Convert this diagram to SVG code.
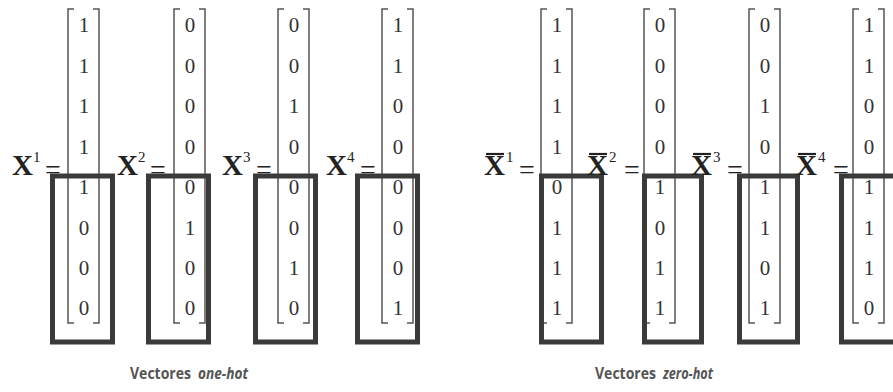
<svg xmlns="http://www.w3.org/2000/svg" width="893" height="392" viewBox="0 0 893 392">
<style>
.d{font-family:"Liberation Serif","Times New Roman",serif;font-size:21px;fill:#333;text-anchor:middle}
.x{font-family:"Liberation Serif","Times New Roman",serif;font-size:29px;font-weight:bold;fill:#222}
.s{font-family:"Liberation Serif","Times New Roman",serif;font-size:15px;fill:#222}
.eq{font-family:"Liberation Serif","Times New Roman",serif;font-size:28px;fill:#222}
.br{fill:none;stroke:#555;stroke-width:1.5}
.bx{fill:none;stroke:#3a3a3a;stroke-width:5}
.ob{stroke:#222;stroke-width:2.2}
.t{font-family:"Open Sans","Liberation Sans",sans-serif;font-size:16.5px;font-weight:bold;fill:#555}
.i{font-style:italic}
</style>
<defs>
<path id="brk" class="br" d="M6,9 H0 V323 H6 M25,9 H31 V323 H25"/>
</defs>

<g id="onehot-x1">
<text class="x" x="12" y="175">X</text><text class="s" x="33" y="162">1</text><text class="eq" x="45" y="179">=</text>
<use href="#brk" x="68"/>
<g class="d" transform="translate(84,0)"><text y="32">1</text><text y="73">1</text><text y="113">1</text><text y="154">1</text><text y="194">1</text><text y="235">0</text><text y="275">0</text><text y="315">0</text></g>
<rect class="bx" x="52.5" y="176" width="60" height="166"/>
</g>
<g id="onehot-x2">
<text class="x" x="117" y="175">X</text><text class="s" x="138" y="162">2</text><text class="eq" x="150" y="179">=</text>
<use href="#brk" x="174"/>
<g class="d" transform="translate(190,0)"><text y="32">0</text><text y="73">0</text><text y="113">0</text><text y="154">0</text><text y="194">0</text><text y="235">1</text><text y="275">0</text><text y="315">0</text></g>
<rect class="bx" x="148.5" y="176" width="60" height="166"/>
</g>
<g id="onehot-x3">
<text class="x" x="222" y="175">X</text><text class="s" x="243" y="162">3</text><text class="eq" x="256" y="179">=</text>
<use href="#brk" x="278"/>
<g class="d" transform="translate(294,0)"><text y="32">0</text><text y="73">0</text><text y="113">1</text><text y="154">0</text><text y="194">0</text><text y="235">0</text><text y="275">1</text><text y="315">0</text></g>
<rect class="bx" x="255.5" y="176" width="60" height="166"/>
</g>
<g id="onehot-x4">
<text class="x" x="326" y="175">X</text><text class="s" x="347" y="162">4</text><text class="eq" x="360" y="179">=</text>
<use href="#brk" x="382"/>
<g class="d" transform="translate(398,0)"><text y="32">1</text><text y="73">1</text><text y="113">0</text><text y="154">0</text><text y="194">0</text><text y="235">0</text><text y="275">0</text><text y="315">1</text></g>
<rect class="bx" x="357.5" y="176" width="60" height="166"/>
</g>

<g id="zerohot-x1">
<text class="x" x="484" y="175">X</text><line class="ob" x1="486" y1="154" x2="504" y2="154"/><text class="s" x="506" y="162">1</text><text class="eq" x="519" y="179">=</text>
<use href="#brk" x="541"/>
<g class="d" transform="translate(557,0)"><text y="32">1</text><text y="73">1</text><text y="113">1</text><text y="154">1</text><text y="194">0</text><text y="235">1</text><text y="275">1</text><text y="315">1</text></g>
<rect class="bx" x="541.5" y="176" width="60" height="166"/>
</g>
<g id="zerohot-x2">
<text class="x" x="587" y="175">X</text><line class="ob" x1="589" y1="154" x2="607" y2="154"/><text class="s" x="609" y="162">2</text><text class="eq" x="624" y="179">=</text>
<use href="#brk" x="644"/>
<g class="d" transform="translate(660,0)"><text y="32">0</text><text y="73">0</text><text y="113">0</text><text y="154">0</text><text y="194">1</text><text y="235">0</text><text y="275">1</text><text y="315">1</text></g>
<rect class="bx" x="644.5" y="176" width="57" height="166"/>
</g>
<g id="zerohot-x3">
<text class="x" x="691" y="175">X</text><line class="ob" x1="693" y1="154" x2="711" y2="154"/><text class="s" x="713" y="162">3</text><text class="eq" x="727" y="179">=</text>
<use href="#brk" x="749"/>
<g class="d" transform="translate(765,0)"><text y="32">0</text><text y="73">0</text><text y="113">1</text><text y="154">0</text><text y="194">1</text><text y="235">1</text><text y="275">0</text><text y="315">1</text></g>
<rect class="bx" x="739.5" y="176" width="58" height="166"/>
</g>
<g id="zerohot-x4">
<text class="x" x="796" y="175">X</text><line class="ob" x1="798" y1="154" x2="816" y2="154"/><text class="s" x="818" y="162">4</text><text class="eq" x="833" y="179">=</text>
<use href="#brk" x="853"/>
<g class="d" transform="translate(869,0)"><text y="32">1</text><text y="73">1</text><text y="113">0</text><text y="154">0</text><text y="194">1</text><text y="235">1</text><text y="275">1</text><text y="315">0</text></g>
<rect class="bx" x="841.5" y="176" width="60" height="166"/>
</g>

<g id="connectors"/>

<g id="labels">
<text class="t" x="130" y="379" textLength="61" lengthAdjust="spacingAndGlyphs">Vectores</text>
<text class="t i" x="198" y="379" textLength="50" lengthAdjust="spacingAndGlyphs">one-hot</text>
<text class="t" x="595" y="379" textLength="61" lengthAdjust="spacingAndGlyphs">Vectores</text>
<text class="t i" x="663" y="379" textLength="50" lengthAdjust="spacingAndGlyphs">zero-hot</text>
</g>
</svg>
